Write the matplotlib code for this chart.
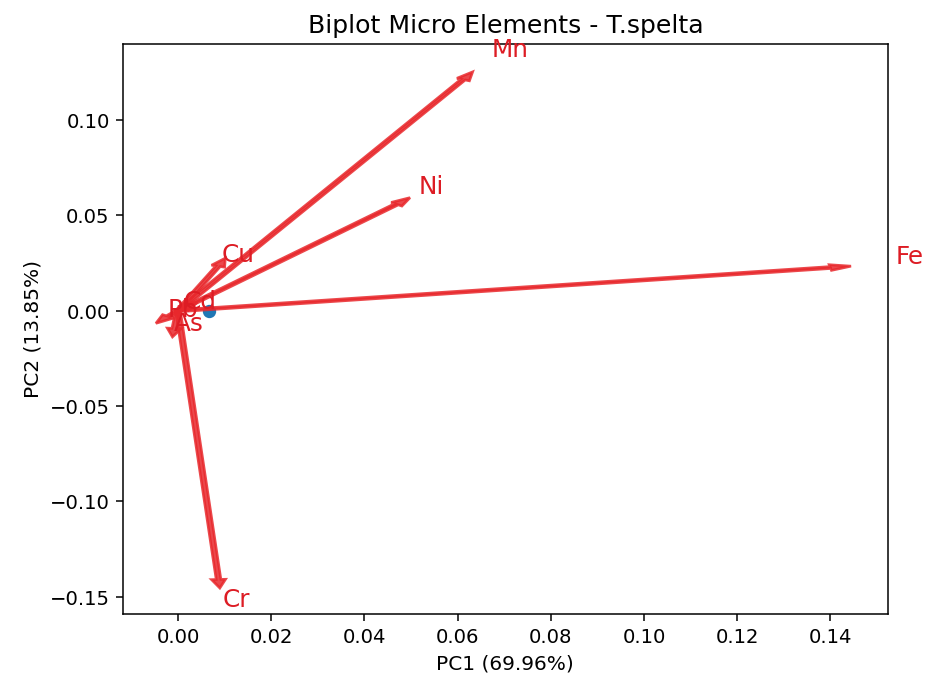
import numpy as np
import matplotlib
matplotlib.use("Agg")
import matplotlib.pyplot as plt

# loadings of the micro elements on PC1 / PC2
labels = ["Fe", "Mn", "Ni", "Cu", "Cr", "Pb", "Cd", "As"]
pc1 = [0.1400, 0.0612, 0.0469, 0.0086, 0.0087, -0.0021, 0.0011, -0.0008]
pc2 = [0.0227, 0.1213, 0.0559, 0.0234, -0.1409, -0.0029, 0.0012, -0.0092]

# sample scores
score_x = [0.0067]
score_y = [0.0000]

var_pc1 = 69.96
var_pc2 = 13.85

dpi = 137
fig = plt.figure(figsize=(928.5 / dpi, 684.5 / dpi), dpi=dpi)
ax = fig.add_subplot(111)
fig.subplots_adjust(left=0.1325, right=0.956, top=0.9357, bottom=0.1023)

ax.scatter(score_x, score_y)

coeff = np.column_stack([pc1, pc2])
for i in range(len(labels)):
    ax.arrow(0, 0, coeff[i, 0], coeff[i, 1], color='#e8282c', alpha=0.85,
             width=0.001, lw=1.4)
    ax.text(coeff[i, 0] * 1.1, coeff[i, 1] * 1.1, labels[i], color='#dd1c24', fontsize=13)

ax.set_xlim(-0.0118, 0.1523)
ax.set_ylim(-0.159, 0.1402)
ax.set_xticks(np.arange(0, 0.141, 0.02))
ax.set_yticks(np.arange(-0.15, 0.101, 0.05))
ax.tick_params(labelsize=10.3)
ax.set_xlabel("PC1 ({:.2f}%)".format(var_pc1), fontsize=10.6)
ax.set_ylabel("PC2 ({:.2f}%)".format(var_pc2), fontsize=10.6)
ax.set_title("Biplot Micro Elements - T.spelta", fontsize=13.2)

fig.savefig("out.png", dpi=dpi)
